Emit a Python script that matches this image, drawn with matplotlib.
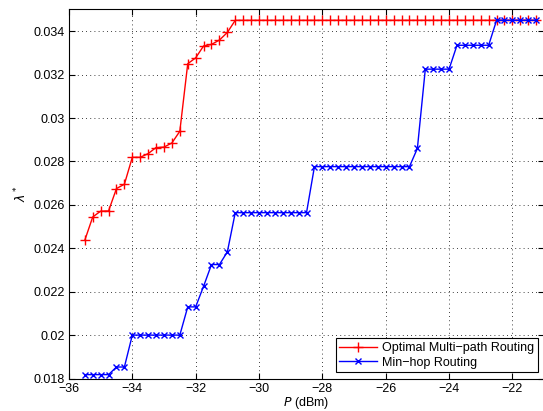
"""
Throughput lambda* vs transmit power P for two routing schemes.
"""
import matplotlib
matplotlib.use("Agg")
import matplotlib.pyplot as plt
from matplotlib.ticker import FuncFormatter

plt.rcParams["font.family"] = ["Liberation Sans", "DejaVu Sans"]

# transmit power grid (dBm)
power_dbm = [
    -35.5, -35.25, -35.0, -34.75, -34.5, -34.25, -34.0, -33.75, -33.5, -33.25,
    -33.0, -32.75, -32.5, -32.25, -32.0, -31.75, -31.5, -31.25, -31.0, -30.75,
    -30.5, -30.25, -30.0, -29.75, -29.5, -29.25, -29.0, -28.75, -28.5, -28.25,
    -28.0, -27.75, -27.5, -27.25, -27.0, -26.75, -26.5, -26.25, -26.0, -25.75,
    -25.5, -25.25, -25.0, -24.75, -24.5, -24.25, -24.0, -23.75, -23.5, -23.25,
    -23.0, -22.75, -22.5, -22.25, -22.0, -21.75, -21.5, -21.25,
]

# optimal multi-path routing
lam_multipath = [
    0.02437, 0.02544, 0.02571, 0.02572, 0.02675, 0.02695, 0.02819, 0.02819, 0.02836, 0.02864,
    0.02866, 0.02885, 0.02939, 0.03250, 0.03277, 0.03332, 0.03339, 0.03359, 0.03394, 0.03450,
    0.03450, 0.03450, 0.03450, 0.03450, 0.03450, 0.03450, 0.03450, 0.03450, 0.03450, 0.03450,
    0.03450, 0.03450, 0.03450, 0.03450, 0.03450, 0.03450, 0.03450, 0.03450, 0.03450, 0.03450,
    0.03450, 0.03450, 0.03450, 0.03450, 0.03450, 0.03450, 0.03450, 0.03450, 0.03450, 0.03450,
    0.03450, 0.03450, 0.03450, 0.03450, 0.03450, 0.03450, 0.03450, 0.03450,
]

# min-hop routing
lam_minhop = [
    0.01818, 0.01818, 0.01818, 0.01818, 0.01853, 0.01853, 0.02000, 0.02000, 0.02000, 0.02000,
    0.02000, 0.02000, 0.02000, 0.02130, 0.02130, 0.02225, 0.02325, 0.02325, 0.02383, 0.02564,
    0.02564, 0.02564, 0.02564, 0.02564, 0.02564, 0.02564, 0.02564, 0.02564, 0.02564, 0.02776,
    0.02776, 0.02776, 0.02776, 0.02776, 0.02776, 0.02776, 0.02776, 0.02776, 0.02776, 0.02776,
    0.02776, 0.02776, 0.02860, 0.03225, 0.03225, 0.03225, 0.03225, 0.03335, 0.03335, 0.03335,
    0.03335, 0.03335, 0.03450, 0.03450, 0.03450, 0.03450, 0.03450, 0.03450,
]

x_ticks = [-36, -34, -32, -30, -28, -26, -24, -22]
y_ticks = [0.018, 0.020, 0.022, 0.024, 0.026, 0.028, 0.030, 0.032, 0.034]

fig = plt.figure(figsize=(5.43, 4.11), dpi=100)
ax = fig.add_axes([0.127, 0.079, 0.875, 0.898])

ax.plot(power_dbm, lam_multipath, color="red", marker="+", markersize=7,
        markeredgewidth=1.0, linewidth=1.0, label="Optimal Multi\u2212path Routing")
ax.plot(power_dbm, lam_minhop, color="blue", marker="x", markersize=5,
        markeredgewidth=1.0, linewidth=1.0, label="Min\u2212hop Routing")

ax.set_xlim(-36, -21)
ax.set_ylim(0.018, 0.035)
ax.set_xticks(x_ticks)
ax.set_yticks(y_ticks)
ax.yaxis.set_major_formatter(FuncFormatter(lambda v, p: "%g" % round(v, 4)))
ax.tick_params(direction="in", top=True, right=True, labelsize=9, length=4, width=0.8, pad=3)
ax.grid(True, linestyle=(0, (1, 4)), color="black", linewidth=0.6)
for s in ax.spines.values():
    s.set_linewidth(0.8)

ax.set_xlabel("$P$ (dBm)", fontsize=9, labelpad=0)
ax.set_ylabel("$\\lambda^*$", fontsize=9, labelpad=3)

leg = ax.legend(loc="lower right", fontsize=9, fancybox=False, framealpha=1,
                edgecolor="black", borderaxespad=0.5, handlelength=3.0,
                handletextpad=0.4, borderpad=0.3, labelspacing=0.2)
leg.get_frame().set_linewidth(0.8)

fig.savefig("out.png", dpi=100)
